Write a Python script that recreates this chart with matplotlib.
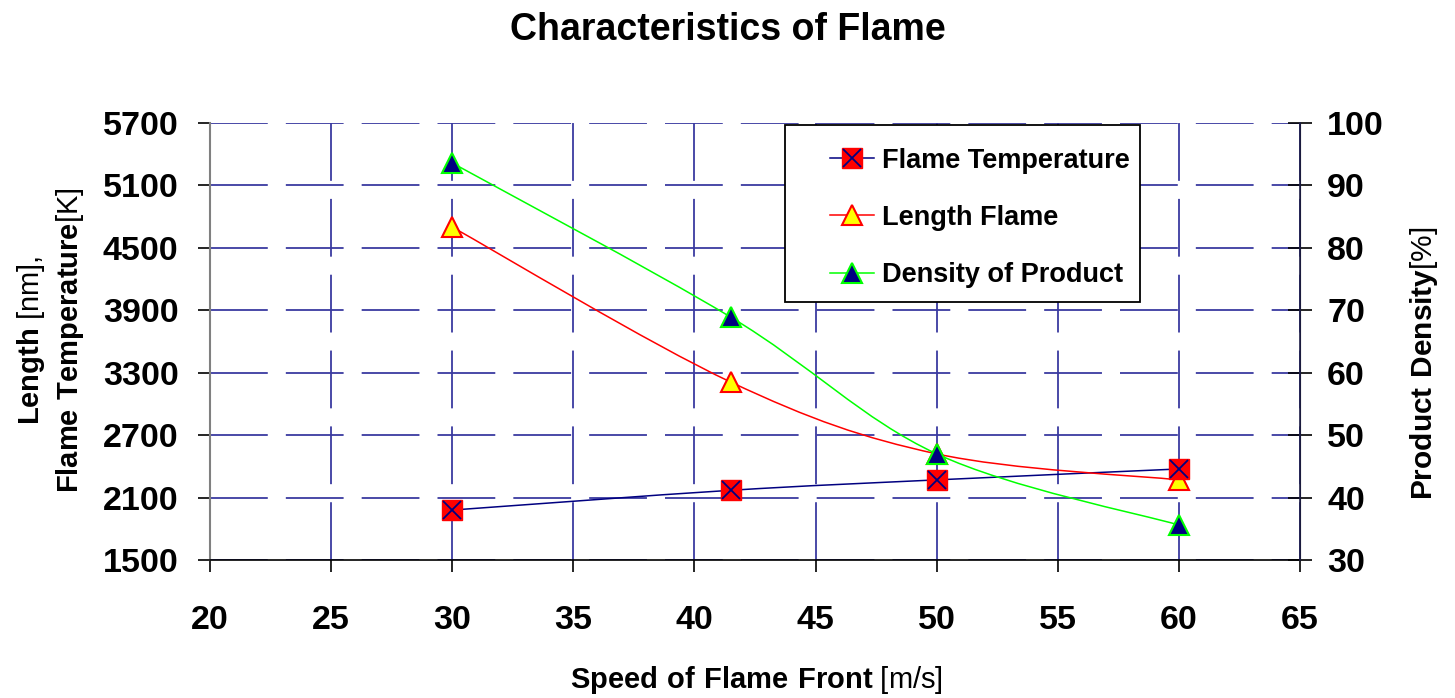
import matplotlib
matplotlib.use('Agg')
import matplotlib.pyplot as plt
from matplotlib.path import Path
from matplotlib.patches import PathPatch, Rectangle
from matplotlib.lines import Line2D
import numpy as np

plt.rcParams['font.family'] = 'Liberation Sans'
plt.rcParams['mathtext.fontset'] = 'custom'
plt.rcParams['mathtext.rm'] = 'Liberation Sans'
plt.rcParams['mathtext.bf'] = 'Liberation Sans:bold'

# data
speed = [30, 41.5, 50, 60]
flame_temp = [1980, 2170, 2270, 2375]
length_flame = [4700, 3210, 2520, 2270]
density = [93.6, 68.9, 47.0, 35.6]

navy = '#000080'
gridc = '#3a3aa0'


def smooth_path(x, y):
    # Excel-like smoothed line: cubic bezier through the points
    pts = np.column_stack([x, y]).astype(float)
    n = len(pts)
    verts = [pts[0]]
    codes = [Path.MOVETO]
    for i in range(n - 1):
        p0 = pts[i - 1] if i > 0 else pts[i]
        p1 = pts[i]
        p2 = pts[i + 1]
        p3 = pts[i + 2] if i + 2 < n else pts[i + 1]
        c1 = p1 + (p2 - p0) / 6.0
        c2 = p2 - (p3 - p1) / 6.0
        verts += [c1, c2, p2]
        codes += [Path.CURVE4] * 3
    return Path(verts, codes)


fig = plt.figure(figsize=(14.55, 6.98), dpi=100)
ax = fig.add_axes([0.1443, 0.1977, 0.7492, 0.6261])
ax2 = ax.twinx()

ax.set_xlim(20, 65)
ax.set_ylim(1500, 5700)
ax2.set_ylim(30, 100)
ax.set_xticks(np.arange(20, 66, 5))
ax.set_yticks(np.arange(1500, 5701, 600))
ax2.set_yticks(np.arange(30, 101, 10))

ax.grid(True, color=gridc, linestyle=(0, (32, 10)), linewidth=1.3)
ax.set_axisbelow(True)

for s in ['top']:
    ax.spines[s].set_visible(False)
    ax2.spines[s].set_visible(False)
ax.spines['left'].set_color('#808080')
ax.spines['left'].set_linewidth(1.5)
ax.spines['bottom'].set_linewidth(1.2)
ax2.spines['right'].set_color('#20204a')
ax2.spines['right'].set_linewidth(1.2)
ax2.spines['left'].set_visible(False)
ax2.spines['bottom'].set_visible(False)

ax.tick_params(axis='both', direction='out', length=8.6, width=1.2, labelsize=24.5)
ax2.tick_params(axis='y', direction='inout', length=17, width=1.2, labelsize=24.5)
for t in ax.get_xticklabels() + ax.get_yticklabels() + ax2.get_yticklabels():
    t.set_fontweight('bold')
ax.tick_params(axis='x', pad=24)
ax.tick_params(axis='y', pad=14)
ax2.tick_params(axis='y', pad=11)

# lines (smoothed)
ax.add_patch(PathPatch(smooth_path(speed, flame_temp), fill=False, edgecolor=navy, lw=1.1, zorder=3))
ax.add_patch(PathPatch(smooth_path(speed, length_flame), fill=False, edgecolor='#ff0000', lw=1.1, zorder=3))
ax2.add_patch(PathPatch(smooth_path(speed, density), fill=False, edgecolor='#00ff00', lw=1.1, zorder=3))

ax.plot(speed, length_flame, linestyle='none', marker='^', ms=14, mfc='#ffff00', mec='#ff0000', mew=1.5, zorder=4)
ax.plot(speed, flame_temp, linestyle='none', marker='s', ms=14, mfc='#ff0000', mec='#ff0000', zorder=5)
ax.plot(speed, flame_temp, linestyle='none', marker='x', ms=13, mec=navy, mew=1.3, zorder=6)
ax2.plot(speed, density, linestyle='none', marker='^', ms=14, mfc=navy, mec='#00ff00', mew=1.5, zorder=4)

fig.text(0.52, 0.026, r'$\mathbf{Speed\ of\ Flame\ Front}$ [m/s]', fontsize=21, ha='center', va='center')
fig.text(0.0345, 0.512, '$\\mathbf{Length}$ [nm],\n$\\mathbf{Flame\\ Temperature}$[K]', fontsize=21,
         rotation=90, ha='center', va='center', ma='center', linespacing=1.3)
fig.text(0.979, 0.48, r'$\mathbf{Product\ Density}$[%]', fontsize=21.5, rotation=90, ha='center', va='center')
fig.text(0.5, 0.957, 'Characteristics of Flame', fontsize=27, fontweight='bold', ha='center', va='center')

# legend
h1 = (Line2D([], [], color=navy, lw=1.1, marker='s', ms=14, mfc='#ff0000', mec='#ff0000'),
      Line2D([], [], color=navy, lw=0, marker='x', ms=13, mec=navy, mew=1.3))
h2 = Line2D([], [], color='#ff0000', lw=1.1, marker='^', ms=14, mfc='#ffff00', mec='#ff0000', mew=1.5)
h3 = Line2D([], [], color='#00ff00', lw=1.1, marker='^', ms=14, mfc=navy, mec='#00ff00', mew=1.5)
ax2.add_patch(Rectangle((0.5275, 0.59), 0.3255, 0.405, transform=ax2.transAxes, fill=True,
                        facecolor='white', edgecolor='black', lw=1.3, zorder=7))
leg = ax2.legend([h1, h2, h3], ['Flame Temperature', 'Length Flame', 'Density of Product'],
                 loc='upper left', bbox_to_anchor=(0.546, 0.999), frameon=False,
                 prop={'weight': 'bold', 'size': 19.5}, labelspacing=1.15, handlelength=1.65,
                 handletextpad=0.3, numpoints=1)
leg.set_zorder(8)

fig.savefig('out.png', dpi=100)
